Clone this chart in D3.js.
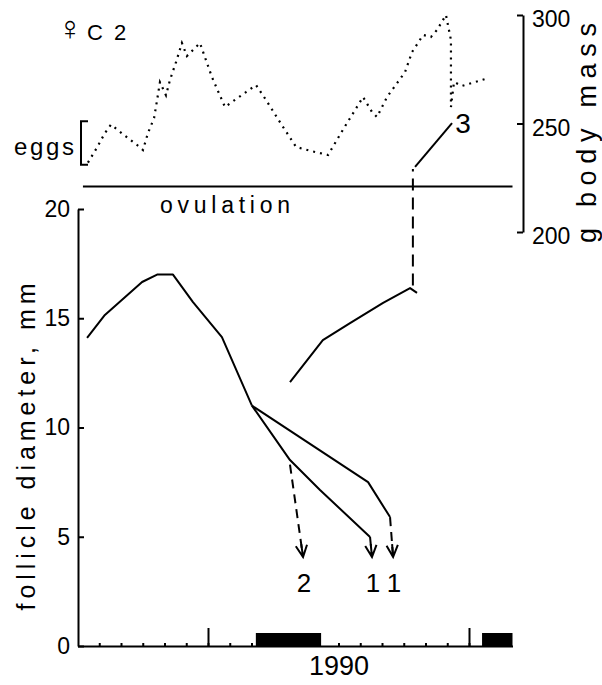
<!DOCTYPE html>
<html><head><meta charset="utf-8">
<script src="https://cdn.jsdelivr.net/npm/d3@7"></script>
<style>
body{margin:0;background:#fff}
text{font-family:"Liberation Sans",Arial,sans-serif;fill:#000}
</style></head>
<body><svg id="c" width="602" height="685"></svg>
<script>
// months counted from July 1989 (0) to March 1991 (20)
const bodyMassMonths = [0.48,0.90,1.26,1.54,2.14,2.74,3.01,3.24,3.52,3.66,3.79,4.07,4.25,4.53,4.80,5.03,5.31,5.63,6.18,6.78,7.10,7.75,8.21,8.67,9.36,10.05,10.74,11.52,12.25,13.13,13.54,13.77,14.23,15.06,15.38,15.89,16.25,16.53,16.94,17.17,17.17,17.31,17.68,18.74];
const bodyMass       = [232,239,245.6,249.5,244.7,240.1,237.8,245.6,252.5,260.8,269,263,270,278.3,287.1,281.1,283.9,287.1,271.4,257.6,259.9,264.5,267.7,260.8,249.8,239.2,237.3,235.5,247.9,262.2,255.3,253,262.2,273.7,282.9,290.8,289.9,293.1,300,288.5,257.6,269.1,267.3,270.5];

const follicleAMonths = [0.44,1.26,2.97,3.66,4.39,5.31,6.64,8.02];
const follicleA       = [14.1,15.15,16.66,17.0,17.0,15.74,14.14,11.0];
const branch1Months   = [8.02,9.77,11.15,13.45];
const branch1         = [11.0,8.51,7.14,4.99];
const branch2Months   = [8.02,13.36,14.37];
const branch2         = [11.0,7.5,5.9];
const follicleBMonths = [9.77,11.28,12.53,14.05,15.29,15.61];
const follicleB       = [12.08,14.0,14.78,15.7,16.38,16.16];

// atresia arrows
const arrowStartMonths = [9.77,13.45,14.37];
const arrowStartMm     = [8.3,4.99,5.9];
const arrowEndMonths   = [10.37,13.54,14.51];
const arrowEndMm       = [4.07,4.07,4.07];
const arrowLabels      = ["2","1","1"];

// ovulation of follicle 3 (into body-mass panel)
const ovulMonths = [15.42,15.42];
const ovulFromMm = 16.5;
const ovulToMass = 229;
const line3Months = [15.52,17.22];
const line3Mass   = [230,250.2];

const ovulationLevel = 221;            // g, on mass scale
const ovulationSpan  = [0.25,20];
const eggsRange      = [231,251];      // g

const darkBars = [[8.2,11.2],[18.6,20]];
const majorTicks = [6,18];
const yearTickMonth = [12];
const yearTickLabel = ["1990"];
const follicleTicks = [0,5,10,15,20];
const massTicks = [200,250,300];

const svg = d3.select("#c");
const x  = d3.scaleLinear().domain([0,20]).range([77.5,512.5]);
const yF = d3.scaleLinear().domain([0,20]).range([646,209]);
const yM = d3.scaleLinear().domain([200,300]).range([232,15]);

const stroke = g => g.attr("fill","none").attr("stroke","#000");

// left axis
const la = svg.append("g").attr("transform","translate(78,0)")
  .call(d3.axisLeft(yF).tickValues(follicleTicks).tickSize(-6).tickSizeOuter(0).tickPadding(8));
la.selectAll("path,line").attr("stroke-width",2);
la.selectAll("text").attr("font-size",23).attr("font-family","Liberation Sans");

// right axis
const ra = svg.append("g").attr("transform","translate(523,0)")
  .call(d3.axisRight(yM).tickValues(massTicks).tickSize(-6).tickSizeOuter(0).tickPadding(9));
ra.selectAll("path,line").attr("stroke-width",2);
ra.selectAll("text").attr("font-size",23).attr("font-family","Liberation Sans").attr("dy","0.5em");

// bottom axis
const ba = svg.append("g").attr("transform","translate(0,646)")
  .call(d3.axisBottom(x).tickValues(d3.range(1,20)).tickSize(-3).tickSizeOuter(0).tickFormat(""));
ba.selectAll("path,line").attr("stroke-width",2);
const bm = svg.append("g").attr("transform","translate(0,646)")
  .call(d3.axisBottom(x).tickValues(majorTicks).tickSize(-18).tickSizeOuter(0).tickFormat(""));
bm.select("path").remove();
bm.selectAll("line").attr("stroke-width",2);
const by = svg.append("g").attr("transform","translate(0,646)")
  .call(d3.axisBottom(x).tickValues(yearTickMonth).tickSize(0).tickPadding(10).tickFormat((d,i)=>yearTickLabel[i]));
by.select("path").remove();
by.selectAll("text").attr("font-size",27).attr("font-family","Liberation Sans");

// dark bars
svg.selectAll("rect.bar").data(darkBars).join("rect").attr("class","bar")
  .attr("x",d=>x(d[0])).attr("width",d=>x(d[1])-x(d[0])).attr("y",633).attr("height",13).attr("fill","#000");

// ovulation line
svg.append("line").attr("x1",x(ovulationSpan[0])).attr("x2",x(ovulationSpan[1]))
  .attr("y1",yM(ovulationLevel)).attr("y2",yM(ovulationLevel)).attr("stroke","#000").attr("stroke-width",2);

// body mass dotted
const lineM = d3.line().x((d,i)=>x(bodyMassMonths[i])).y(d=>yM(d));
svg.append("path").datum(bodyMass).attr("d",lineM).call(stroke)
  .attr("stroke-width",2.2).attr("stroke-dasharray","2 5");

// follicle lines
function fl(ms, vs){
  const pts = vs.map((v,i)=>[x(ms[i]),yF(v)]);
  svg.append("path").attr("d",d3.line()(pts)).call(stroke).attr("stroke-width",2).attr("stroke-linejoin","round");
}
fl(follicleAMonths,follicleA);
fl(branch1Months,branch1);
fl(branch2Months,branch2);
fl(follicleBMonths,follicleB);

// arrows
arrowLabels.forEach((lab,i)=>{
  const x0=x(arrowStartMonths[i]), y0=yF(arrowStartMm[i]), x1=x(arrowEndMonths[i]), y1=yF(arrowEndMm[i]);
  svg.append("line").attr("x1",x0).attr("y1",y0).attr("x2",x1).attr("y2",y1)
    .attr("stroke","#000").attr("stroke-width",2).attr("stroke-dasharray","9 6");
  const ang = Math.atan2(y1-y0,x1-x0), L=13, a=0.45;
  const p1=[x1-L*Math.cos(ang-a), y1-L*Math.sin(ang-a)], p2=[x1-L*Math.cos(ang+a), y1-L*Math.sin(ang+a)];
  svg.append("path").attr("d",`M${p1}L${x1},${y1}L${p2}M${x1},${y1}L${x1-L*Math.cos(ang)},${y1-L*Math.sin(ang)}`)
    .call(stroke).attr("stroke-width",2);
  svg.append("text").attr("x",x1+1).attr("y",yF(arrowEndMm[i])+26).attr("dy","0.35em")
    .attr("text-anchor","middle").attr("font-size",26).text(lab);
});

// ovulation connection of follicle 3
svg.append("line").attr("x1",x(ovulMonths[0])).attr("y1",yF(ovulFromMm))
  .attr("x2",x(ovulMonths[1])).attr("y2",yM(ovulToMass))
  .attr("stroke","#000").attr("stroke-width",2).attr("stroke-dasharray","12 7");
svg.append("path").attr("d",d3.line()(line3Months.map((m,i)=>[x(m),yM(line3Mass[i])])))
  .call(stroke).attr("stroke-width",2);
svg.append("text").attr("x",x(line3Months[1])+11).attr("y",yM(line3Mass[1])).attr("dy","0.35em")
  .attr("text-anchor","middle").attr("font-size",28).text("3");

// eggs bracket
const bx = 81;
svg.append("path").attr("d",`M${bx+7},${yM(eggsRange[1])}H${bx}V${yM(eggsRange[0])}H${bx+7}`)
  .call(stroke).attr("stroke-width",2);
svg.append("text").attr("x",14).attr("y",155).attr("font-size",24)
  .attr("textLength",60).attr("lengthAdjust","spacing").text("eggs");

// labels
svg.append("text").attr("x",70).attr("y",40).attr("text-anchor","middle").attr("font-size",34)
  .attr("font-family","DejaVu Sans").text("♀");
svg.append("text").attr("x",87).attr("y",40).attr("font-size",22).text("C");
svg.append("text").attr("x",114).attr("y",40).attr("font-size",22).text("2");

svg.append("text").attr("x",160).attr("y",213).attr("font-size",23)
  .attr("textLength",130).attr("lengthAdjust","spacing").text("ovulation");

svg.append("text").attr("transform","translate(35,447) rotate(-90)").attr("text-anchor","middle")
  .attr("font-size",25).attr("textLength",327).attr("lengthAdjust","spacing").text("follicle diameter, mm");
svg.append("text").attr("transform","translate(596,133) rotate(-90)").attr("text-anchor","middle")
  .attr("font-size",27).attr("textLength",220).attr("lengthAdjust","spacing").text("g body mass");
</script></body></html>
